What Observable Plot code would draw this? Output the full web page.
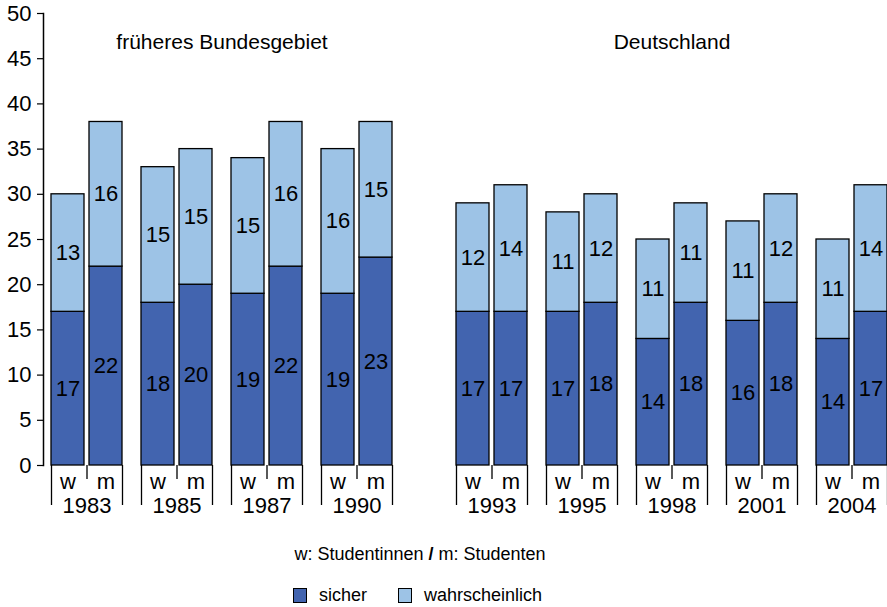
<!DOCTYPE html>
<html>
<head>
<meta charset="utf-8">
<script src="https://cdn.jsdelivr.net/npm/d3@7"></script>
<script src="https://cdn.jsdelivr.net/npm/@observablehq/plot@0.6"></script>
<style>
  body { margin: 0; background: #fff; font-family: "Liberation Sans", Arial, sans-serif; }
  #wrap { position: relative; width: 887px; height: 607px; overflow: hidden; }
  #chart { position: absolute; left: 0; top: 0; }
  .lg { position: absolute; font-size: 18px; color: #000; white-space: nowrap; line-height: 1; }
  .sw { position: absolute; width: 14px; height: 15px; box-sizing: border-box; border: 1px solid #000; }
</style>
</head>
<body>
<div id="wrap">
  <div id="chart"></div>
  <div class="lg" id="note" style="left:0; width:840px; text-align:center; top:545px;"></div>
  <div class="sw" id="sw0" style="left:293px; top:588px;"></div>
  <div class="lg" id="lb0" style="left:319px; top:586px;"></div>
  <div class="sw" id="sw1" style="left:398px; top:588px;"></div>
  <div class="lg" id="lb1" style="left:424px; top:586px;"></div>
</div>
<script>
// ---- data ----
const years   = ["1983", "1985", "1987", "1990", "1993", "1995", "1998", "2001", "2004"];
const regions = ["früheres Bundesgebiet", "früheres Bundesgebiet", "früheres Bundesgebiet", "früheres Bundesgebiet",
                 "Deutschland", "Deutschland", "Deutschland", "Deutschland", "Deutschland"];
const sexes = ["w", "m"];
const seriesNames = ["sicher", "wahrscheinlich"];
const sicherW = [17, 18, 19, 19, 17, 17, 14, 16, 14];
const wahrW   = [13, 15, 15, 16, 12, 11, 11, 11, 11];
const sicherM = [22, 20, 22, 23, 17, 18, 18, 18, 17];
const wahrM   = [16, 15, 16, 15, 14, 12, 11, 12, 14];
const yTicks = [0, 5, 10, 15, 20, 25, 30, 35, 40, 45, 50];
const noteText = ["w: Studentinnen", "/", "m: Studenten"];

// ---- layout constants (in group units; one year group = 1) ----
const BAR = 33 / 90, GAP = 5 / 90, REGION_GAP = 0.5;
const colors = ["#4264af", "#9dc3e6"];
const font = "'Liberation Sans', Arial, sans-serif";

// group positions: a half-group gap where the region changes
let shift = 0;
const groupPos = years.map((y, i) => {
  if (i > 0 && regions[i] !== regions[i - 1]) shift += REGION_GAP;
  return i + shift;
});

const bars = [];
const segs = [];
years.forEach((year, i) => {
  sexes.forEach((sex, k) => {
    const s = k === 0 ? sicherW[i] : sicherM[i];
    const w = k === 0 ? wahrW[i] : wahrM[i];
    const x1 = groupPos[i] + k * (BAR + GAP);
    const x2 = x1 + BAR;
    bars.push({year, sex, x1, x2});
    segs.push({year, sex, series: seriesNames[0], x1, x2, y1: 0, y2: s, value: s});
    segs.push({year, sex, series: seriesNames[1], x1, x2, y1: s, y2: s + w, value: w});
  });
});
const groups = years.map((year, i) => ({year, g: groupPos[i], region: regions[i]}));
const regionNames = [...new Set(regions)];
const titles = regionNames.map(r => {
  const gs = groups.filter(d => d.region === r);
  return {region: r, x: (gs[0].g + gs[gs.length - 1].g + 2 * BAR + GAP) / 2};
});
const outerTicks = groups.flatMap(d => [d.g, d.g + 2 * BAR + GAP]);
const midTicks = groups.map(d => d.g + BAR + GAP / 2);

const chart = Plot.plot({
  width: 887,
  height: 525,
  marginLeft: 43,
  marginRight: 0,
  marginTop: 13,
  marginBottom: 60,
  style: {fontFamily: font, fontSize: "22px", color: "#000", background: "#fff"},
  x: {type: "linear", domain: [-8 / 90, 836 / 90], axis: null},
  y: {domain: [0, 50], axis: null},
  color: {domain: seriesNames, range: colors},
  marks: [
    Plot.axisY({ticks: yTicks, tickSize: 6, tickPadding: 6, fontSize: 22, stroke: "#000", strokeWidth: 1.2}),
    Plot.frame({anchor: "left", stroke: "#000", strokeWidth: 1.5}),
    Plot.rect(segs, {x1: "x1", x2: "x2", y1: "y1", y2: "y2", fill: "series", stroke: "#000", strokeWidth: 1.3}),
    Plot.text(segs, {x: d => (d.x1 + d.x2) / 2, y: d => (d.y1 + d.y2) / 2, text: d => String(d.value), fontSize: 22, fill: "#000"}),
    Plot.ruleX(outerTicks, {x: d => d, y1: () => 0, y2: () => 0, insetBottom: -40, stroke: "#000", strokeWidth: 1.3}),
    Plot.ruleX(midTicks, {x: d => d, y1: () => 0, y2: () => 0, insetBottom: -14, stroke: "#000", strokeWidth: 1.3}),
    Plot.text(bars, {x: d => (d.x1 + d.x2) / 2, y: () => 0, text: "sex", dy: 16, fontSize: 22, fill: "#000"}),
    Plot.text(groups, {x: d => d.g + BAR + GAP / 2, y: () => 0, text: "year", dy: 40, fontSize: 22, fill: "#000"}),
    Plot.text(titles, {x: "x", frameAnchor: "top", dy: 21, text: "region", fontSize: 21, fill: "#000"})
  ]
});
document.getElementById("chart").appendChild(chart);

// legend below the plot
const note = document.getElementById("note");
note.innerHTML = noteText[0] + " <b>" + noteText[1] + "</b> " + noteText[2];
document.getElementById("sw0").style.background = colors[0];
document.getElementById("sw1").style.background = colors[1];
document.getElementById("lb0").textContent = seriesNames[0];
document.getElementById("lb1").textContent = seriesNames[1];
</script>
</body>
</html>
